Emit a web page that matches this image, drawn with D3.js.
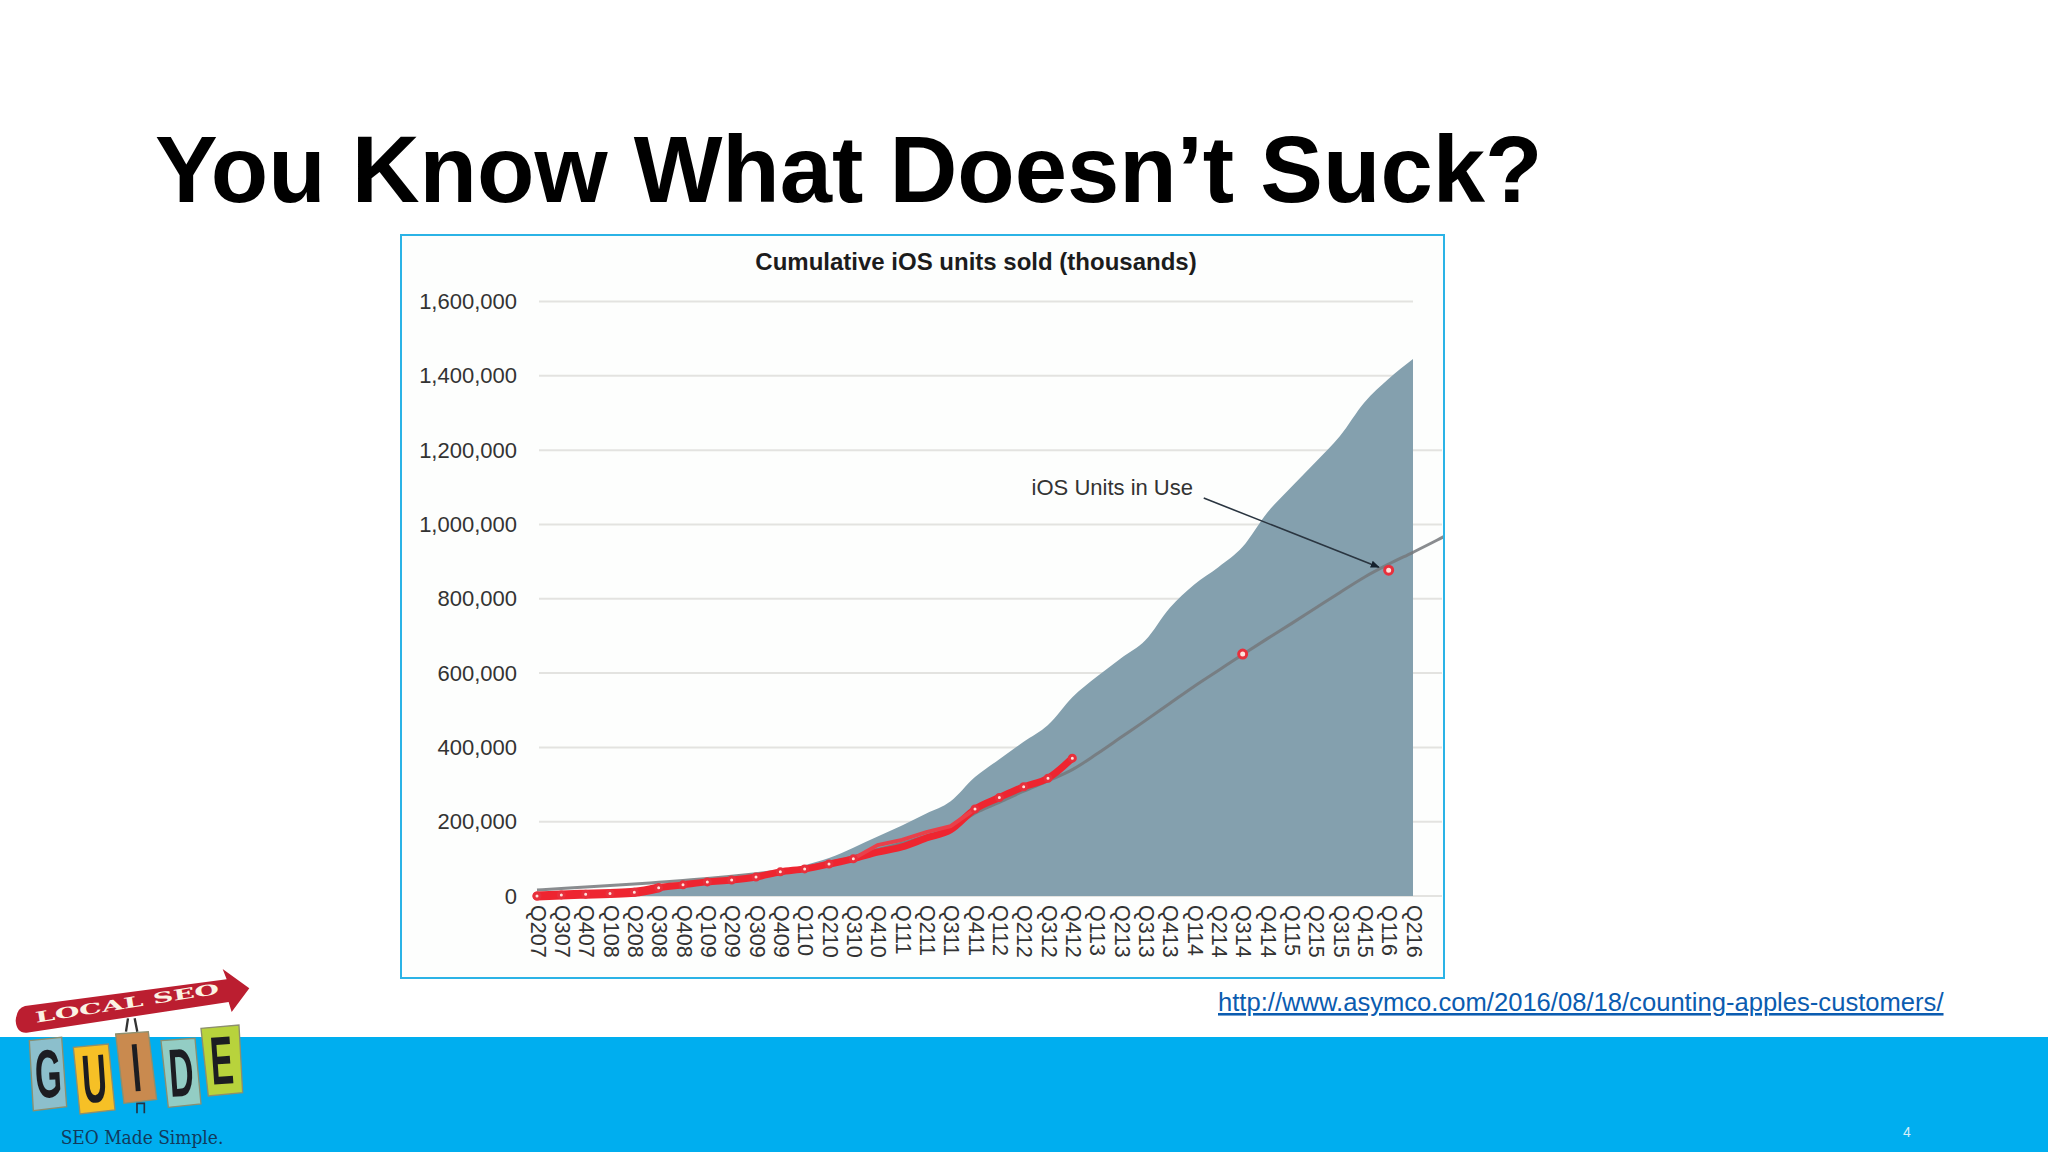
<!DOCTYPE html>
<html>
<head>
<meta charset="utf-8">
<script src="https://cdn.jsdelivr.net/npm/d3@7"></script>
<style>
  html, body { margin: 0; padding: 0; background: #fff; }
  svg { display: block; font-family: "Liberation Sans", Arial, sans-serif; }
</style>
</head>
<body>
<svg id="chart" width="2048" height="1152"></svg>
<script>
// quarters along the bottom axis
const quarters = ['Q207','Q307','Q407','Q108','Q208','Q308','Q408','Q109','Q209','Q309','Q409','Q110','Q210','Q310','Q410','Q111','Q211','Q311','Q411','Q112','Q212','Q312','Q412','Q113','Q213','Q313','Q413','Q114','Q214','Q314','Q414','Q115','Q215','Q315','Q415','Q116','Q216'];
const yTicks = [0, 200000, 400000, 600000, 800000, 1000000, 1200000, 1400000, 1600000];

// cumulative units sold, thousands (grey-blue area)
const cumulativeUnits = [5000,8000,12000,16000,21000,26000,32000,40000,47000,58000,68000,83000,102000,130000,160000,190000,222000,255000,320000,368000,415000,460000,535000,590000,640000,688000,775000,838000,885000,940000,1031000,1101000,1168000,1238000,1328000,1392000,1445000];
// iOS units in use (grey line), runs a little past the last quarter
const unitsInUse = [16000,20000,24000,28000,32000,37000,42000,47000,53000,60000,68000,77000,90000,105000,125000,142000,162000,183000,223000,252000,282000,310000,340000,382000,427000,472000,518000,564000,607000,650000,692000,733000,775000,817000,858000,893000,925000,958000,993000];
// hand-drawn red trace over the first quarters
const redTrace = [0,3000,5000,7000,10000,22000,30000,38000,43000,51000,65000,73000,86000,100000,118000,132000,156000,178000,234000,265000,294000,317000,371000];
const redUpper = [100000,137000,151000,172000,188000,234000];
const redUpperStart = 13;
const redDots = [[29, 651000], [35, 877000]];

const width = 2048, height = 1152;
const box = { left: 401, top: 235, right: 1444, bottom: 978 };

const svg = d3.select('#chart').attr('viewBox', [0, 0, width, height]);

const x = d3.scaleLinear().domain([0, quarters.length - 1]).range([537, 1413]);
const y = d3.scaleLinear().domain([0, 1600000]).range([896, 301.5]);

// slide
svg.append('rect').attr('width', width).attr('height', height).attr('fill', '#fff');
svg.append('rect').attr('y', 1037).attr('width', width).attr('height', 115).attr('fill', '#00aeef');
svg.append('text')
  .attr('x', 155).attr('y', 202)
  .attr('font-size', 94).attr('font-weight', 'bold').attr('fill', '#000')
  .text('You Know What Doesn\u2019t Suck?');

// chart frame
svg.append('rect')
  .attr('x', box.left).attr('y', box.top)
  .attr('width', box.right - box.left).attr('height', box.bottom - box.top)
  .attr('fill', '#fdfefd');
svg.append('clipPath').attr('id', 'frame').append('rect')
  .attr('x', box.left).attr('y', box.top)
  .attr('width', box.right - box.left).attr('height', box.bottom - box.top);

svg.append('text')
  .attr('x', 976).attr('y', 270)
  .attr('text-anchor', 'middle')
  .attr('font-size', 24).attr('font-weight', 'bold').attr('fill', '#1c1c1c')
  .text('Cumulative iOS units sold (thousands)');

// gridlines, the top two stop at the last quarter
svg.append('g')
  .selectAll('line')
  .data(yTicks)
  .join('line')
  .attr('x1', x(0) + 2)
  .attr('x2', d => d >= 1400000 ? x(36) : box.right - 2)
  .attr('y1', d => y(d))
  .attr('y2', d => y(d))
  .attr('stroke', '#e3e3e0')
  .attr('stroke-width', 2);

// area
const area = d3.area()
  .x((d, i) => x(i))
  .y0(y(0))
  .y1(d => y(d))
  .curve(d3.curveMonotoneX);

svg.append('path')
  .attr('d', area(cumulativeUnits))
  .attr('fill', '#84a0ae');

// units in use
const line = d3.line()
  .x((d, i) => x(i))
  .y(d => y(d))
  .curve(d3.curveMonotoneX);

svg.append('path')
  .attr('clip-path', 'url(#frame)')
  .attr('d', line(unitsInUse))
  .attr('fill', 'none')
  .attr('stroke', '#74787b')
  .attr('stroke-opacity', 0.85)
  .attr('stroke-width', 3);

// red trace, heavier at the start
svg.append('path')
  .attr('d', line(redTrace))
  .attr('fill', 'none')
  .attr('stroke', '#ee2530')
  .attr('stroke-width', 7)
  .attr('stroke-linecap', 'round');

svg.append('path')
  .attr('d', line(redTrace.slice(0, 6)))
  .attr('fill', 'none')
  .attr('stroke', '#ee2530')
  .attr('stroke-width', 9)
  .attr('stroke-linecap', 'round');

svg.append('path')
  .attr('d', d3.line().x((d, i) => x(i + redUpperStart)).y(d => y(d))(redUpper))
  .attr('fill', 'none')
  .attr('stroke', '#e9404a')
  .attr('stroke-width', 4);

const dots = redTrace.map((d, i) => [i, d])
  .filter(d => d[0] < 14 || d[0] > 17)
  .concat(redDots);

svg.append('g')
  .selectAll('circle')
  .data(dots)
  .join('circle')
  .attr('cx', d => x(d[0]))
  .attr('cy', d => y(d[1]))
  .attr('r', d => d[1] > 600000 ? 4 : 3)
  .attr('fill', '#ffe3dc')
  .attr('stroke', '#e8303c')
  .attr('stroke-width', 3);

// annotation
svg.append('defs').append('marker')
  .attr('id', 'arrow')
  .attr('viewBox', '0 0 10 10').attr('refX', 9).attr('refY', 5)
  .attr('markerWidth', 9).attr('markerHeight', 9).attr('markerUnits', 'userSpaceOnUse')
  .attr('orient', 'auto')
  .append('path').attr('d', 'M0,1L10,5L0,9Z').attr('fill', '#15222e');

svg.append('line')
  .attr('x1', x(27.4)).attr('y1', y(1071000))
  .attr('x2', x(34.6)).attr('y2', y(885000))
  .attr('stroke', '#2a3540').attr('stroke-width', 1.6)
  .attr('marker-end', 'url(#arrow)');

svg.append('text')
  .attr('x', 1193).attr('y', 495)
  .attr('text-anchor', 'end')
  .attr('font-size', 22).attr('fill', '#333')
  .text('iOS Units in Use');

// axes
svg.append('g')
  .attr('transform', `translate(${x(0) + 2},0)`)
  .call(d3.axisLeft(y).tickValues(yTicks).tickSize(0).tickPadding(22).tickFormat(d3.format(',')))
  .call(g => g.select('.domain').remove())
  .call(g => g.selectAll('text')
    .attr('font-family', '"Liberation Sans", Arial, sans-serif')
    .attr('font-size', 22).attr('fill', '#333'));

svg.append('g')
  .attr('transform', `translate(0,${y(0)})`)
  .call(d3.axisBottom(x).tickValues(d3.range(quarters.length)).tickSize(0).tickFormat(i => quarters[i]))
  .call(g => g.select('.domain').remove())
  .call(g => g.selectAll('text')
    .attr('font-family', '"Liberation Sans", Arial, sans-serif')
    .attr('font-size', 21.5).attr('fill', '#333')
    .attr('text-anchor', 'start')
    .attr('dy', 0)
    .attr('transform', 'translate(-7,9) rotate(90)')
    .attr('x', 0).attr('y', 0));

svg.append('rect')
  .attr('x', box.left).attr('y', box.top)
  .attr('width', box.right - box.left).attr('height', box.bottom - box.top)
  .attr('fill', 'none').attr('stroke', '#2bb3e6').attr('stroke-width', 2);

// source link and page number
svg.append('text')
  .attr('x', 1218).attr('y', 1011)
  .attr('font-size', 25.6).attr('fill', '#0b5cb0')
  .attr('text-decoration', 'underline')
  .text('http://www.asymco.com/2016/08/18/counting-apples-customers/');

svg.append('text')
  .attr('x', 1907).attr('y', 1137)
  .attr('text-anchor', 'middle')
  .attr('font-size', 14).attr('fill', '#d8eef8')
  .text('4');

// logo
const logo = svg.append('g').attr('transform', 'translate(0,950) scale(0.3333)');
logo.append('path').attr('d', 'M384,205L378,245M404,205L412,245').attr('stroke', '#333').attr('stroke-width', 7);
logo.append('path').attr('d', 'M411,490V460H433V490').attr('stroke', '#234').attr('stroke-width', 5).attr('fill', 'none');
logo.append('path')
  .attr('d', 'M75,168L680,88L668,57L748,115L695,186L686,156L80,248Q50,250 47,212Q50,174 75,168Z')
  .attr('fill', '#bb1e30');
logo.append('text')
  .attr('transform', 'translate(108,218) rotate(-9)')
  .attr('font-family', '"DejaVu Serif", serif').attr('font-weight', 'bold')
  .attr('font-size', 44).attr('fill', '#fbf3e4')
  .attr('textLength', 558).attr('lengthAdjust', 'spacingAndGlyphs')
  .text('LOCAL SEO');

const tiles = [
  { letter: 'G', pts: '88,272 185,262 200,470 100,482', fill: '#8cbfcc', cx: 145, cy: 368, r: -3 },
  { letter: 'U', pts: '220,292 325,282 345,480 240,492', fill: '#f6c026', cx: 283, cy: 383, r: -4 },
  { letter: 'I', pts: '347,252 445,245 470,448 372,460', fill: '#c98a4f', cx: 408, cy: 350, r: -5 },
  { letter: 'D', pts: '483,272 585,265 603,462 505,472', fill: '#93cdc4', cx: 543, cy: 365, r: -4 },
  { letter: 'E', pts: '603,235 717,225 728,428 625,438', fill: '#b8d33c', cx: 665, cy: 328, r: -4 }
];
tiles.forEach(t => {
  logo.append('polygon').attr('points', t.pts).attr('fill', t.fill).attr('stroke', '#8c8f6f').attr('stroke-width', 4);
  logo.append('text')
    .attr('transform', `translate(${t.cx},${t.cy}) rotate(${t.r}) scale(0.5,1)`)
    .attr('text-anchor', 'middle').attr('dy', '0.36em')
    .attr('font-size', 205).attr('font-weight', 'bold').attr('fill', '#1c1d22')
    .text(t.letter);
});
logo.append('text')
  .attr('x', 182).attr('y', 583)
  .attr('font-family', '"DejaVu Serif", serif')
  .attr('font-size', 54).attr('fill', '#123a5c')
  .attr('textLength', 488).attr('lengthAdjust', 'spacingAndGlyphs')
  .text('SEO Made Simple.');
</script>
</body>
</html>
